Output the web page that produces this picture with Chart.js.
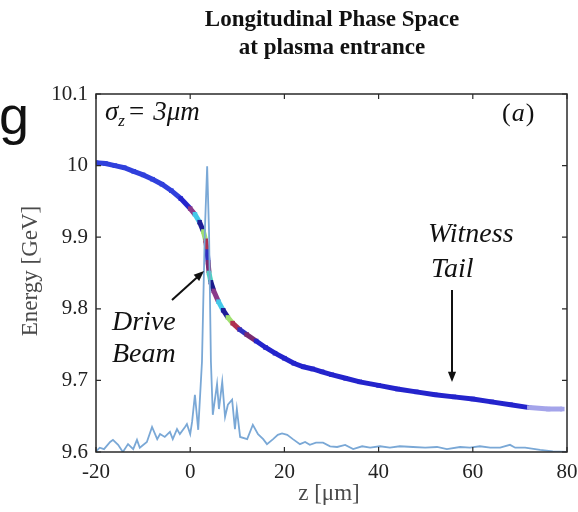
<!DOCTYPE html>
<html>
<head>
<meta charset="utf-8">
<script src="https://cdn.jsdelivr.net/npm/chart.js@4/dist/chart.umd.min.js"></script>
<style>
html, body { margin: 0; padding: 0; background: #fff; }
#wrap { width: 578px; height: 512px; }
</style>
</head>
<body>
<div id="wrap"><canvas id="chart"></canvas></div>
<script>
// Longitudinal phase space (z [um], energy [GeV])
const phaseZ = [-20, -18, -16, -14, -12, -10, -8, -6, -4, -2, 0, 1, 2, 2.8, 3.3, 3.6, 3.8, 4.0, 4.4, 5.0,
    6, 7, 8, 9, 10.5, 12, 14, 16, 18, 20, 22, 24, 26, 28, 30, 33, 36, 40, 44, 48,
    52, 56, 60, 64, 68, 72, 76, 79];
const phaseE = [10.004, 10.003, 10.000, 9.997, 9.992, 9.987, 9.981, 9.974, 9.965, 9.954, 9.940, 9.932, 9.921, 9.908, 9.895, 9.880, 9.865, 9.850, 9.837, 9.825,
    9.810, 9.798, 9.788, 9.780, 9.771, 9.764, 9.755, 9.746, 9.738, 9.731, 9.724, 9.719, 9.716, 9.712, 9.708, 9.703, 9.698, 9.693, 9.688, 9.684,
    9.680, 9.677, 9.674, 9.670, 9.666, 9.662, 9.660, 9.660];

// Current profile, drawn on the same axes
const currZ = [-20, -19.2, -18.3, -17.0, -16.4, -15.3, -14.3, -13.2, -12.1, -11.3, -10.7, -9.2, -8.1, -7.0, -6.4, -5.4, -4.3, -3.7, -2.8, -2.2,
    -1.1, -0.7, 0.0, 0.4, 1.0, 1.7, 2.5, 3.1, 3.6, 4.0, 4.4, 4.8, 5.7, 6.1, 6.8, 7.4, 8.0, 8.9, 9.5, 9.9,
    10.6, 12.1, 13.3, 14.4, 15.5, 16.3, 17.6, 18.6, 19.5, 20.6, 21.8, 23.3, 24.4, 25.4, 26.7, 28.2, 29.7, 31.2, 32.9, 34.6,
    36.5, 38.2, 40.3, 42.4, 44.5, 47.3, 49.9, 52.4, 54.5, 57.3, 59.4, 61.5, 63.7, 65.8, 67.9, 69.0, 71.1, 74.3, 77.0, 80];
const currE = [9.601, 9.606, 9.604, 9.614, 9.617, 9.610, 9.600, 9.611, 9.604, 9.617, 9.606, 9.614, 9.635, 9.618, 9.625, 9.621, 9.628, 9.618, 9.632, 9.625,
    9.635, 9.639, 9.625, 9.642, 9.680, 9.631, 9.726, 9.907, 9.999, 9.907, 9.726, 9.652, 9.695, 9.660, 9.698, 9.649, 9.666, 9.673, 9.632, 9.660,
    9.621, 9.618, 9.638, 9.625, 9.618, 9.611, 9.618, 9.624, 9.626, 9.624, 9.618, 9.611, 9.614, 9.610, 9.613, 9.613, 9.608, 9.607, 9.610, 9.604,
    9.608, 9.606, 9.608, 9.606, 9.608, 9.607, 9.606, 9.607, 9.604, 9.607, 9.606, 9.608, 9.606, 9.606, 9.610, 9.606, 9.606, 9.603, 9.601, 9.600];

const xTicks = [-20, 0, 20, 40, 60, 80];
const yTicks = [9.6, 9.7, 9.8, 9.9, 10.0, 10.1];

const SERIF = '"Liberation Serif", "DejaVu Serif", serif';
const driveColors = ['#1c1c8c', '#8a3a8a', '#44c8e8', '#1e1e96', '#a0e070', '#b03050', '#3030c0', '#7a2a70', '#50d0c0'];

function bandColor(i) {
    const z = phaseZ[i];
    if (z >= -1 && z <= 13) return driveColors[i % driveColors.length];
    if (z > 71) return '#a4a4ea';
    if (z < -2) return '#3040dc';
    return '#2424cc';
}

function arrow(ctx, x1, y1, x2, y2) {
    const a = Math.atan2(y2 - y1, x2 - x1);
    const h = 11;
    ctx.beginPath();
    ctx.moveTo(x1, y1);
    ctx.lineTo(x2 - Math.cos(a) * h * 0.8, y2 - Math.sin(a) * h * 0.8);
    ctx.stroke();
    ctx.beginPath();
    ctx.moveTo(x2, y2);
    ctx.lineTo(x2 - h * Math.cos(a - 0.38), y2 - h * Math.sin(a - 0.38));
    ctx.lineTo(x2 - h * Math.cos(a + 0.38), y2 - h * Math.sin(a + 0.38));
    ctx.closePath();
    ctx.fill();
}

const decorations = {
    id: 'decorations',
    afterDraw(chart) {
        const ctx = chart.ctx;
        const a = chart.chartArea;
        const sx = chart.scales.x, sy = chart.scales.y;
        ctx.save();

        // box + inward ticks
        ctx.strokeStyle = '#2a2a2a';
        ctx.lineWidth = 1.5;
        ctx.strokeRect(a.left, a.top, a.right - a.left, a.bottom - a.top);
        ctx.lineWidth = 1.2;
        ctx.beginPath();
        xTicks.forEach(v => {
            const px = sx.getPixelForValue(v);
            ctx.moveTo(px, a.bottom); ctx.lineTo(px, a.bottom - 5);
            ctx.moveTo(px, a.top); ctx.lineTo(px, a.top + 5);
        });
        yTicks.forEach(v => {
            const py = sy.getPixelForValue(v);
            ctx.moveTo(a.left, py); ctx.lineTo(a.left + 5, py);
            ctx.moveTo(a.right, py); ctx.lineTo(a.right - 5, py);
        });
        ctx.stroke();

        // x tick labels (drawn here so the last label does not shrink the plot)
        ctx.fillStyle = '#222';
        ctx.font = '21px ' + SERIF;
        ctx.textAlign = 'center';
        ctx.textBaseline = 'middle';
        xTicks.forEach(v => ctx.fillText(String(v), sx.getPixelForValue(v), a.bottom + 20));

        // title
        ctx.fillStyle = '#111';
        ctx.font = 'bold 23px ' + SERIF;
        ctx.fillText('Longitudinal Phase Space', 332, 20);
        ctx.fillText('at plasma entrance', 332, 48);

        // stray glyph at the left edge
        ctx.textAlign = 'left';
        ctx.textBaseline = 'alphabetic';
        ctx.font = '54px "Liberation Sans", Arial, sans-serif';
        ctx.fillText('g', -1, 134);

        // axis titles
        ctx.fillStyle = '#4a4a4a';
        ctx.font = '23px ' + SERIF;
        ctx.textAlign = 'center';
        ctx.textBaseline = 'middle';
        ctx.fillText('z [\u03BCm]', 329, 494);
        ctx.save();
        ctx.translate(31, 271);
        ctx.rotate(-Math.PI / 2);
        ctx.fillText('Energy [GeV]', 0, 0);
        ctx.restore();

        // sigma_z label
        ctx.fillStyle = '#111';
        ctx.textAlign = 'left';
        ctx.textBaseline = 'alphabetic';
        let x = 105;
        ctx.font = 'italic 27px ' + SERIF;
        ctx.fillText('\u03C3', x, 120); x += ctx.measureText('\u03C3').width;
        ctx.font = 'italic 17px ' + SERIF;
        ctx.fillText('z', x, 126); x += ctx.measureText('z').width + 4;
        ctx.font = '27px ' + SERIF;
        ctx.fillText('=', x, 120); x += ctx.measureText('=').width + 9;
        ctx.font = 'italic 27px ' + SERIF;
        ctx.fillText('3\u03BCm', x, 120);

        // (a)
        ctx.font = '26px ' + SERIF;
        ctx.fillText('(', 502, 121);
        let w = ctx.measureText('(').width;
        ctx.font = 'italic 26px ' + SERIF;
        ctx.fillText('a', 502 + w + 1, 121);
        w += ctx.measureText('a').width + 2;
        ctx.font = '26px ' + SERIF;
        ctx.fillText(')', 502 + w, 121);

        // annotations
        ctx.font = 'italic 28px ' + SERIF;
        ctx.fillText('Witness', 428, 242);
        ctx.fillText('Tail', 431, 277);
        ctx.fillText('Drive', 112, 330);
        ctx.fillText('Beam', 112, 362);

        ctx.strokeStyle = '#111';
        ctx.fillStyle = '#111';
        ctx.lineWidth = 2;
        arrow(ctx, 452, 290, 452, 382);
        arrow(ctx, 172, 300, 204, 271);

        ctx.restore();
    }
};

new Chart(document.getElementById('chart'), {
    type: 'scatter',
    data: {
        datasets: [
            {
                label: 'current',
                data: currZ.map((z, i) => ({ x: z, y: currE[i] })),
                showLine: true,
                borderColor: '#7aa8d6',
                borderWidth: 1.8,
                pointRadius: 0,
                tension: 0,
                order: 0
            },
            {
                label: 'phase space',
                data: phaseZ.map((z, i) => ({ x: z, y: phaseE[i] })),
                showLine: true,
                borderWidth: 5,
                segment: { borderColor: c => bandColor(c.p0DataIndex) },
                borderColor: '#2424cc',
                pointStyle: 'rect',
                pointRadius: 3.2,
                pointBorderWidth: 0,
                pointBackgroundColor: c => bandColor(c.dataIndex),
                order: 1
            }
        ]
    },
    options: {
        responsive: true,
        maintainAspectRatio: false,
        animation: false,
        layout: { padding: { top: 94, right: 11, left: 0, bottom: 0 } },
        plugins: { legend: { display: false }, tooltip: { enabled: false } },
        scales: {
            x: {
                type: 'linear', min: -20, max: 80,
                afterBuildTicks: s => { s.ticks = xTicks.map(v => ({ value: v })); },
                afterFit: s => { s.height = 60; },
                grid: { display: false, drawTicks: false },
                border: { display: false },
                ticks: { display: false }
            },
            y: {
                type: 'linear', min: 9.6, max: 10.1,
                afterBuildTicks: s => { s.ticks = yTicks.map(v => ({ value: v })); },
                afterFit: s => { s.width = 96; },
                grid: { display: false, drawTicks: false },
                border: { display: false },
                ticks: {
                    padding: 8, color: '#222', font: { family: SERIF, size: 21 },
                    callback: v => String(Number(v.toFixed(1)))
                }
            }
        }
    },
    plugins: [decorations]
});
</script>
</body>
</html>
